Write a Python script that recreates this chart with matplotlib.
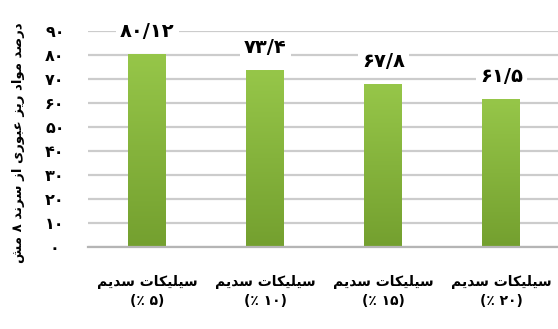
import numpy as np
import matplotlib.pyplot as plt
from matplotlib.colors import LinearSegmentedColormap

plt.rcParams['font.family'] = ['DejaVu Sans']
plt.rcParams['image.composite_image'] = False

# chart data
categories = ['سیلیکات سدیم', 'سیلیکات سدیم', 'سیلیکات سدیم', 'سیلیکات سدیم']
percents = ['(٪ ۵)', '(٪ ۱۰)', '(٪ ۱۵)', '(٪ ۲۰)']
values = [80.12, 73.4, 67.8, 61.5]
value_labels = ['۸۰/۱۲', '۷۳/۴', '۶۷/۸', '۶۱/۵']
yticks = [0, 10, 20, 30, 40, 50, 60, 70, 80, 90]
ytick_labels = ['۰', '۱۰', '۲۰', '۳۰', '۴۰', '۵۰', '۶۰', '۷۰', '۸۰', '۹۰']
ylabel = 'درصد مواد ریز عبوری از سرند ۸ مش'

# tiny arabic shaper (matplotlib does not shape or reorder RTL text)
FORMS = {
    'ا': ('\uFE8D', '\uFE8E', None, None),
    'ب': ('\uFE8F', '\uFE90', '\uFE91', '\uFE92'),
    'ت': ('\uFE95', '\uFE96', '\uFE97', '\uFE98'),
    'د': ('\uFEA9', '\uFEAA', None, None),
    'ر': ('\uFEAD', '\uFEAE', None, None),
    'ز': ('\uFEAF', '\uFEB0', None, None),
    'س': ('\uFEB1', '\uFEB2', '\uFEB3', '\uFEB4'),
    'ش': ('\uFEB5', '\uFEB6', '\uFEB7', '\uFEB8'),
    'ص': ('\uFEB9', '\uFEBA', '\uFEBB', '\uFEBC'),
    'ع': ('\uFEC9', '\uFECA', '\uFECB', '\uFECC'),
    'ک': ('\uFED9', '\uFEDA', '\uFEDB', '\uFEDC'),
    'ل': ('\uFEDD', '\uFEDE', '\uFEDF', '\uFEE0'),
    'م': ('\uFEE1', '\uFEE2', '\uFEE3', '\uFEE4'),
    'ن': ('\uFEE5', '\uFEE6', '\uFEE7', '\uFEE8'),
    'و': ('\uFEED', '\uFEEE', None, None),
    'ی': ('\uFEEF', '\uFEF0', '\uFEF3', '\uFEF4'),
}


def shape(text):
    out = []
    for i, ch in enumerate(text):
        if ch not in FORMS:
            out.append(ch)
            continue
        prev = text[i - 1] if i > 0 else ''
        nxt = text[i + 1] if i + 1 < len(text) else ''
        f = FORMS[ch]
        jp = prev in FORMS and FORMS[prev][2] is not None
        jn = f[2] is not None and nxt in FORMS
        if jp and jn:
            out.append(f[3])
        elif jp:
            out.append(f[1])
        elif jn:
            out.append(f[2])
        else:
            out.append(f[0])
    return ''.join(out)[::-1]


fig = plt.figure(figsize=(5.58, 3.29), dpi=100)
ax = fig.add_axes([0.158, 0.249, 0.842, 0.657])

x = np.arange(len(values))

ax.set_axisbelow(True)
ax.yaxis.grid(True, color='#cccccc', linewidth=1.6)

bars = ax.bar(x, values, width=0.32, color='#86b33c', zorder=3)
grad = np.linspace(1, 0, 100).reshape(-1, 1)
cmap = LinearSegmentedColormap.from_list('g', ['#74a02f', '#96c649'])
for b in bars:
    ax.imshow(grad, extent=[b.get_x(), b.get_x() + b.get_width(), 0, b.get_height()],
              aspect='auto', cmap=cmap, zorder=3.5)

for xi, v, lab in zip(x, values, value_labels):
    ax.text(xi, v + 9.5, lab, ha='center', va='center', fontsize=14, fontweight='bold',
            bbox=dict(facecolor='white', edgecolor='none', pad=3), zorder=4)

ax.set_xlim(-0.5, 3.48)
ax.set_ylim(0, 90)
ax.set_yticks(yticks)
ax.set_yticklabels(ytick_labels, fontsize=11.5, fontweight='bold', ha='center')
ax.tick_params(axis='y', length=0, pad=24)
ax.set_xticks(x)
ax.set_xticklabels([shape(c) + '\n' + p for c, p in zip(categories, percents)],
                   fontsize=10, fontweight='bold', linespacing=1.5)
ax.tick_params(axis='x', length=0, pad=20)
for s in ['left', 'right', 'top']:
    ax.spines[s].set_visible(False)
ax.spines['bottom'].set_color('#b5b5b5')
ax.spines['bottom'].set_linewidth(1.6)
ax.spines['bottom'].set_zorder(5)

fig.text(0.033, 0.565, shape(ylabel), rotation=90, ha='center', va='center',
         fontsize=9.5, fontweight='bold')

fig.savefig('out.png', dpi=100)
